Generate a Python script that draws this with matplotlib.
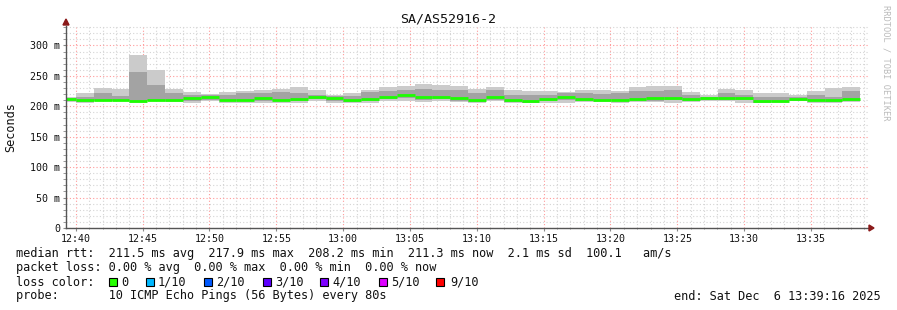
import matplotlib
matplotlib.use("Agg")
import matplotlib.pyplot as plt
import matplotlib.dates as mdates
import numpy as np
from datetime import datetime, timedelta

# ---------------- data ----------------
title = "SA/AS52916-2"
start_time = datetime(2025, 12, 6, 12, 39, 16)
end_time = datetime(2025, 12, 6, 13, 39, 16)
first_step = datetime(2025, 12, 6, 12, 38, 41)
step_seconds = 80

# per 80 s step (ms)
rtt_min = [207, 205, 208, 208, 206, 208, 207, 205, 208, 206, 206, 206,
           206, 206, 208, 205, 205, 206, 208, 209, 207, 208, 207, 206,
           208, 206, 206, 206, 206, 207, 207, 206, 207, 207, 206, 207,
           208, 208, 206, 207, 206, 208, 206, 206, 207]
rtt_q1 = [209, 207, 208, 208, 208, 209, 208, 208, 210, 208, 208, 209,
          208, 209, 212, 208, 207, 208, 212, 214, 210, 212, 209, 207,
          210, 207, 206, 208, 211, 209, 208, 208, 209, 209, 210, 209,
          210, 210, 210, 206, 207, 208, 208, 207, 209]
rtt_med = [212.5, 210, 210, 211, 209, 211, 210, 213, 215, 211, 211, 213.6,
           210, 212, 216, 213.6, 210, 212.5, 216, 218.5, 214.7, 216, 213, 210,
           215, 209.8, 208.7, 211.4, 214.7, 212, 210, 210, 212.5, 213, 213.6, 212,
           213, 213, 214, 209, 209, 211.4, 209.8, 209.8, 212.5]
rtt_q3 = [214, 214.7, 221.7, 217, 256, 235, 221.7, 219, 219, 219, 221.7, 221.7,
          222.8, 221.7, 219, 217, 217, 222.8, 224.5, 226, 228, 227, 227, 221.7,
          226, 219, 219, 219, 221.7, 221.7, 220.6, 221.7, 224.5, 224.5, 227, 219,
          216, 221.7, 219, 216, 216, 214.7, 219, 216, 224.5]
rtt_max = [216, 221.7, 230, 229, 284, 260, 229, 224, 221, 224, 225.5, 227,
           229, 231.5, 227, 219, 221.7, 227, 231, 232.6, 237, 235, 233.7, 229,
           231.5, 227, 225.5, 224.5, 223, 227, 226, 224.5, 231.5, 233, 232.6, 222.8,
           219, 228, 226, 221.7, 221.7, 219, 225.5, 230, 231.5]

y_ticks = [0, 50, 100, 150, 200, 250, 300]
y_tick_labels = ["0", "50 m", "100 m", "150 m", "200 m", "250 m", "300 m"]
x_tick_labels = ["12:40", "12:45", "12:50", "12:55", "13:00", "13:05", "13:10",
                 "13:15", "13:20", "13:25", "13:30", "13:35"]

loss_labels = ["0", "1/10", "2/10", "3/10", "4/10", "5/10", "9/10"]
loss_colors = ["#26ff00", "#00b8ff", "#0059ff", "#5e00ff", "#7e00ff", "#dd00ff", "#ff0000"]

stats_line = "median rtt:  211.5 ms avg  217.9 ms max  208.2 ms min  211.3 ms now  2.1 ms sd  100.1   am/s"
loss_line = "packet loss: 0.00 % avg  0.00 % max  0.00 % min  0.00 % now"
probe_line = "probe:       10 ICMP Echo Pings (56 Bytes) every 80s"
end_line = "end: Sat Dec  6 13:39:16 2025"

# ---------------- figure ----------------
W, H = 897, 310
DPI = 100
fig = plt.figure(figsize=(W / DPI, H / DPI), dpi=DPI)
fig.patch.set_facecolor("white")
MONO = "DejaVu Sans Mono"
FS = 8.55
TFS = 7.2

L, R, T, B = 66, 868, 26, 228
ax = fig.add_axes([L / W, 1 - B / H, (R - L) / W, (B - T) / H])
ax.set_facecolor("white")

n = len(rtt_med)
starts = [first_step + timedelta(seconds=step_seconds * i) for i in range(n)]
xs = mdates.date2num(starts)
wd = step_seconds / 86400.0

mn = np.array(rtt_min); mx = np.array(rtt_max)
q1 = np.array(rtt_q1); q3 = np.array(rtt_q3); md = np.array(rtt_med)

ax.bar(xs, mx - mn, bottom=mn, width=wd, align="edge", color="#cbcbcb", linewidth=0, zorder=3)
ax.bar(xs, q3 - q1, bottom=q1, width=wd, align="edge", color="#a3a3a3", linewidth=0, zorder=4)
ax.hlines(md, xs, xs + wd, colors="#1cff00", linewidth=2.0, zorder=6)

x0 = mdates.date2num(start_time)
x1 = mdates.date2num(end_time)
ax.set_xlim(x0, x1)
ax.set_ylim(0, 332)

# grids
ax.xaxis.set_minor_locator(mdates.MinuteLocator(interval=1))
ax.set_xticks(mdates.date2num([datetime(2025, 12, 6, 12, 40) + timedelta(minutes=5 * i)
                               for i in range(len(x_tick_labels))]))
ax.set_xticklabels(x_tick_labels)
ax.set_yticks(y_ticks)
ax.set_yticklabels(y_tick_labels)
ax.set_yticks(np.arange(0, 331, 10), minor=True)

ax.set_axisbelow(True)
ax.grid(which="minor", color="#d4d4d4", linestyle=(0, (1, 2)), linewidth=0.8)
ax.grid(which="major", color="#ff9a9a", linestyle=(0, (1, 2)), linewidth=0.8)

for s in ["top", "right"]:
    ax.spines[s].set_visible(False)
for s in ["left", "bottom"]:
    ax.spines[s].set_color("#555555")
    ax.spines[s].set_linewidth(1.0)
    ax.spines[s].set_zorder(8)

ax.tick_params(axis="both", which="both", length=2, color="#888888", labelsize=TFS,
               labelcolor="#111111", pad=2)
ax.tick_params(axis="x", which="minor", length=1)
for lbl in ax.get_xticklabels() + ax.get_yticklabels():
    lbl.set_fontfamily(MONO)

# arrows
fig.patches.append(plt.Polygon([[(L - 3) / W, 1 - 25 / H], [(L + 3) / W, 1 - 25 / H], [L / W, 1 - 19 / H]],
                               closed=True, color="#8b1a1a", transform=fig.transFigure))
fig.patches.append(plt.Polygon([[(R + 1) / W, 1 - (B - 3) / H], [(R + 1) / W, 1 - (B + 3) / H], [(R + 6) / W, 1 - B / H]],
                               closed=True, color="#8b1a1a", transform=fig.transFigure))

def fx(px):
    return px / W

def fy(py):
    return 1 - py / H

fig.text(fx(448), fy(19), title, ha="center", va="center", fontsize=9.6, family=MONO, color="#111111")
fig.text(fx(11), fy(127), "Seconds", ha="center", va="center", rotation=90, fontsize=FS, family=MONO, color="#111111")
fig.text(fx(886), fy(5), "RRDTOOL / TOBI OETIKER", ha="center", va="top", rotation=270,
         fontsize=6.2, family=MONO, color="#bbbbbb")

fig.text(fx(16), fy(254), stats_line, ha="left", va="center", fontsize=FS, family=MONO, color="#111111")
fig.text(fx(16), fy(268), loss_line, ha="left", va="center", fontsize=FS, family=MONO, color="#111111")
fig.text(fx(16), fy(282), "loss color:", ha="left", va="center", fontsize=FS, family=MONO, color="#111111")
fig.text(fx(16), fy(296), probe_line, ha="left", va="center", fontsize=FS, family=MONO, color="#111111")
fig.text(fx(881), fy(296), end_line, ha="right", va="center", fontsize=FS, family=MONO, color="#111111")

sq_x = [109, 146, 204, 263, 320, 379, 436]
lab_x = [121, 158, 216, 275, 332, 391, 450]
for xpos, tx, lab, col in zip(sq_x, lab_x, loss_labels, loss_colors):
    fig.patches.append(plt.Rectangle((fx(xpos), fy(286)), 8 / W, 8 / H, transform=fig.transFigure,
                                     facecolor=col, edgecolor="#000000", linewidth=0.8))
    fig.text(fx(tx), fy(282), lab, ha="left", va="center", fontsize=FS, family=MONO, color="#111111")

fig.savefig("out.png", dpi=DPI, facecolor="white")
